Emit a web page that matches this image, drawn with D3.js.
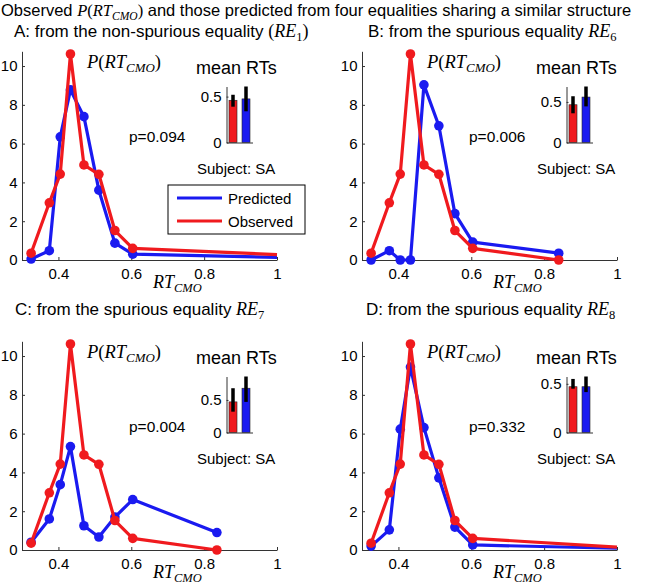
<!DOCTYPE html>
<html>
<head>
<meta charset="utf-8">
<script src="https://cdn.jsdelivr.net/npm/d3@7"></script>
<style>
body { margin: 0; background: #fff; }
text { font-family: "Liberation Sans", Arial, sans-serif; fill: #000; }
</style>
</head>
<body>
<script>
// RT bins (same for all panels), plus a tail bin per panel
var binX = [0.325, 0.375, 0.405, 0.433, 0.47, 0.511, 0.555, 0.604];
var tailX = [1.0, 0.84, 0.835, 1.0];

var observed = [0.35, 2.95, 4.43, 10.62, 4.9, 4.42, 1.52, 0.6];
var tailObs = [0.28, 0, 0, 0.15];

var predA = [0.05, 0.48, 6.35, 8.77, 7.39, 3.6, 0.87, 0.3];
var predB = [0, 0.48, 0, 0, 9.03, 6.92, 2.39, 0.92];
var predC = [0.4, 1.6, 3.37, 5.33, 1.25, 0.67, 1.7, 2.6];
var predD = [0.2, 1.04, 6.23, 9.43, 6.31, 3.72, 1.18, 0.26];
var tailPred = [0.14, 0.35, 0.9, 0.09];

var pValues = ["p=0.094", "p=0.006", "p=0.004", "p=0.332"];
var letters = ["A", "B", "C", "D"];
var reIndex = ["1", "6", "7", "8"];

// inset "mean RTs": observed (red) and predicted (blue), with error bars
var meanObs = [0.46, 0.465, 0.47, 0.47];
var obsLo = [0.39, 0.36, 0.32, 0.45];
var obsHi = [0.52, 0.57, 0.68, 0.55];
var meanPred = [0.475, 0.56, 0.68, 0.47];
var predLo = [0.34, 0.445, 0.47, 0.415];
var predHi = [0.61, 0.69, 0.86, 0.575];

var xTicks = [0.4, 0.6, 0.8, 1];
var yTicks = [0, 2, 4, 6, 8, 10];
var insetTicks = [0, 0.5];

var preds = [predA, predB, predC, predD];
var RED = "#f01a1e", BLUE = "#1a1af0";
var serif = '"Liberation Serif", "DejaVu Serif", serif';

var svg = d3.select("body").append("svg")
  .attr("width", 646).attr("height", 585);

// math helper: P(RT_CMO)
function pLabel(t, size) {
  t.style("font-family", serif).attr("font-size", size);
  t.append("tspan").attr("font-style", "italic").text("P");
  t.append("tspan").text("(");
  t.append("tspan").attr("font-style", "italic").text("RT");
  t.append("tspan").attr("font-style", "italic").attr("font-size", size * 0.7).attr("dy", 4).text("CMO");
  t.append("tspan").attr("dy", -4).text(")");
}

// title
var title = svg.append("text").attr("x", 1).attr("y", 15.5).attr("font-size", 16.5);
title.append("tspan").text("Observed ");
pLabel(title.append("tspan"), 16.5);
title.append("tspan").style("font-family", '"Liberation Sans", Arial, sans-serif').text(" and those predicted from four equalities sharing a similar structure");

var frames = [
  {left: 22, bottom: 260, sx: 14, sy: 37},
  {left: 362, bottom: 260, sx: 368, sy: 37},
  {left: 22, bottom: 550, sx: 15, sy: 315},
  {left: 362, bottom: 550, sx: 366, sy: 315}
];

frames.forEach(function(f, i) {
  var g = svg.append("g");

  // subtitle
  var st = g.append("text").attr("x", f.sx).attr("y", f.sy).attr("font-size", 17);
  if (i === 0) {
    st.append("tspan").text("A: from the non-spurious equality ");
    st.append("tspan").style("font-family", serif).attr("font-size", 18).text("(");
    st.append("tspan").style("font-family", serif).attr("font-size", 18).attr("font-style", "italic").text("RE");
    st.append("tspan").style("font-family", serif).attr("font-size", 12.5).attr("dy", 4).text(reIndex[i]);
    st.append("tspan").style("font-family", serif).attr("font-size", 18).attr("dy", -4).text(")");
  } else {
    st.append("tspan").text(letters[i] + ": from the spurious equality ");
    st.append("tspan").style("font-family", serif).attr("font-size", 18).attr("font-style", "italic").text("RE");
    st.append("tspan").style("font-family", serif).attr("font-size", 12.5).attr("dy", 4).text(reIndex[i]);
  }

  var x = d3.scaleLinear().domain([0.3, 1]).range([f.left, f.left + 255]);
  var y = d3.scaleLinear().domain([0, 10.76]).range([f.bottom, f.bottom - 208.7]);

  var xAxis = g.append("g").attr("transform", "translate(0," + f.bottom + ")")
    .call(d3.axisBottom(x).tickValues(xTicks).tickFormat(d3.format("")).tickSize(-3).tickSizeOuter(0).tickPadding(8));
  var yAxis = g.append("g").attr("transform", "translate(" + f.left + ",0)")
    .call(d3.axisLeft(y).tickValues(yTicks).tickSize(-3).tickSizeOuter(0).tickPadding(4.5));
  [xAxis, yAxis].forEach(function(a) {
    a.attr("font-size", 15).attr("font-family", null);
    a.selectAll("path, line").attr("stroke", "#333");
    a.selectAll("text").attr("fill", "#000");
  });

  var obsPts = binX.map(function(v, k) { return {x: v, y: observed[k]}; });
  obsPts.push({x: tailX[i], y: tailObs[i]});
  var predPts = binX.map(function(v, k) { return {x: v, y: preds[i][k]}; });
  predPts.push({x: tailX[i], y: tailPred[i]});

  var line = d3.line().x(function(d) { return x(d.x); }).y(function(d) { return y(d.y); });

  [[predPts, BLUE], [obsPts, RED]].forEach(function(s) {
    g.append("path").datum(s[0])
      .attr("d", line).attr("fill", "none")
      .attr("stroke", s[1]).attr("stroke-width", 3.2).attr("stroke-linejoin", "round");
    g.selectAll(null).data(s[0].filter(function(d) { return d.x < 1; }))
      .enter().append("circle")
      .attr("cx", function(d) { return x(d.x); })
      .attr("cy", function(d) { return y(d.y); })
      .attr("r", 4.8).attr("fill", s[1]);
  });

  // axis labels
  pLabel(g.append("text").attr("x", f.left + 65).attr("y", f.bottom - 192), 18.5);
  var xl = g.append("text").attr("x", f.left + 131).attr("y", f.bottom + 28)
    .style("font-family", serif).attr("font-size", 18);
  xl.append("tspan").attr("font-style", "italic").text("RT");
  xl.append("tspan").attr("font-style", "italic").attr("font-size", 12.5).attr("dy", 4).text("CMO");

  g.append("text").attr("x", f.left + 107).attr("y", f.bottom - 118)
    .attr("font-size", 15.5).text(pValues[i]);
  g.append("text").attr("x", f.left + 174).attr("y", f.bottom - 186)
    .attr("font-size", 18).text("mean RTs");
  g.append("text").attr("x", f.left + 175).attr("y", f.bottom - 86)
    .attr("font-size", 15).text("Subject: SA");

  // inset bars
  var il = f.left + 204.5, ib = f.bottom - 117.5;
  var top = Math.max(predHi[i], obsHi[i]);
  var ix = d3.scaleLinear().domain([0.5, 2.5]).range([il, il + 26]);
  var iy = d3.scaleLinear().domain([0, top]).range([ib, ib - 56]);
  var bars = [
    {pos: 1, v: meanObs[i], lo: obsLo[i], hi: obsHi[i], c: RED},
    {pos: 2, v: meanPred[i], lo: predLo[i], hi: predHi[i], c: BLUE}
  ];
  g.selectAll(null).data(bars).enter().append("rect")
    .attr("x", function(d) { return ix(d.pos) - 4; })
    .attr("width", 8)
    .attr("y", function(d) { return iy(d.v); })
    .attr("height", function(d) { return ib - iy(d.v); })
    .attr("fill", function(d) { return d.c; })
    .attr("stroke", "#222").attr("stroke-width", 0.6);
  g.selectAll(null).data(bars).enter().append("line")
    .attr("x1", function(d) { return ix(d.pos); })
    .attr("x2", function(d) { return ix(d.pos); })
    .attr("y1", function(d) { return iy(d.lo); })
    .attr("y2", function(d) { return iy(d.hi); })
    .attr("stroke", "#000").attr("stroke-width", 3.5);
  var iyAxis = g.append("g").attr("transform", "translate(" + il + ",0)")
    .call(d3.axisLeft(iy).tickValues(insetTicks).tickFormat(function(d) { return d === 0 ? "0" : "0.5"; })
      .tickSize(-2).tickSizeOuter(0).tickPadding(5));
  var ixAxis = g.append("g").attr("transform", "translate(0," + ib + ")")
    .call(d3.axisBottom(ix).tickValues([]).tickSizeOuter(0));
  [iyAxis, ixAxis].forEach(function(a) {
    a.attr("font-size", 15).attr("font-family", null);
    a.selectAll("path, line").attr("stroke", "#333");
    a.selectAll("text").attr("fill", "#000");
  });

  // legend in panel A only
  if (i === 0) {
    var lg = g.append("g");
    lg.append("rect").attr("x", 168).attr("y", 185).attr("width", 137).attr("height", 49)
      .attr("fill", "#fff").attr("stroke", "#000").attr("stroke-width", 1);
    [["Predicted", BLUE, 198], ["Observed", RED, 221]].forEach(function(e) {
      lg.append("line").attr("x1", 177).attr("x2", 222).attr("y1", e[2]).attr("y2", e[2])
        .attr("stroke", e[1]).attr("stroke-width", 3.2);
      lg.append("text").attr("x", 228).attr("y", e[2] + 5.5).attr("font-size", 15).text(e[0]);
    });
  }
});
</script>
</body>
</html>
